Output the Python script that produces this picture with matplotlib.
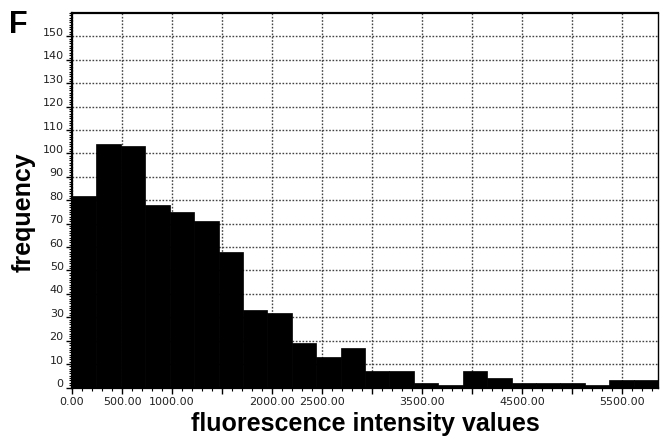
import numpy as np
import matplotlib
matplotlib.use("Agg")
import matplotlib.pyplot as plt
from matplotlib.ticker import MultipleLocator
import matplotlib.transforms as mtransforms

# histogram of fluorescence intensity, 24 bins
bin_width = 244
counts = [82, 104, 103, 78, 75, 71, 58, 33, 32, 19, 13, 17,
          7, 7, 2, 1, 7, 4, 2, 2, 2, 1, 3, 3]
x_ticks = [0, 500, 1000, 1500, 2000, 2500, 3000, 3500, 4000, 4500, 5000, 5500]
x_labels = ['0.00', '500.00', '1000.00', '', '2000.00', '2500.00',
            '', '3500.00', '', '4500.00', '', '5500.00']
y_ticks = list(range(0, 160, 10))

edges = np.arange(len(counts) + 1) * bin_width

fig = plt.figure(figsize=(6.61, 4.39), dpi=100)
ax = fig.add_axes([0.109, 0.115, 0.8865, 0.853])

ax.bar(edges[:-1], counts, width=bin_width, align='edge',
       color='black', edgecolor='black', linewidth=0.5, zorder=3)

ax.set_xlim(0, edges[-1])
ax.set_ylim(0, 160)

# dotted grid
ax.set_xticks(x_ticks)
ax.set_xticklabels(x_labels)
ax.set_yticks(y_ticks)
ax.xaxis.set_minor_locator(MultipleLocator(100))
ax.yaxis.set_minor_locator(MultipleLocator(1))
ax.grid(True, which='major', linestyle=(0, (1.2, 1.2)), color='#444444',
        linewidth=1.0, zorder=1)
ax.set_axisbelow(True)

ax.tick_params(axis='both', which='major', direction='out', length=4,
               width=1, labelsize=8, labelcolor='#222222', pad=2)
ax.tick_params(axis='both', which='minor', direction='out', length=2.5, width=0.8)

# y labels sit a bit above their tick
offset = mtransforms.ScaledTranslation(0, 4 / 72, fig.dpi_scale_trans)
for lbl in ax.get_yticklabels():
    lbl.set_transform(lbl.get_transform() + offset)
    lbl.set_fontfamily('DejaVu Sans')
for lbl in ax.get_xticklabels():
    lbl.set_fontfamily('DejaVu Sans')

for side in ['left', 'bottom', 'top']:
    ax.spines[side].set_linewidth(1.6)
ax.spines['right'].set_linewidth(1.0)

ax.set_xlabel('fluorescence intensity values', fontsize=18, fontweight='bold',
              family='Liberation Sans', labelpad=4)
ax.set_ylabel('frequency', fontsize=18, fontweight='bold',
              family='Liberation Sans')
ax.yaxis.set_label_coords(-0.063, 0.47)

fig.text(0.014, 0.925, 'F', fontsize=22, fontweight='heavy',
         family='Liberation Sans', ha='left', va='baseline')

fig.savefig('out.png', dpi=100)
